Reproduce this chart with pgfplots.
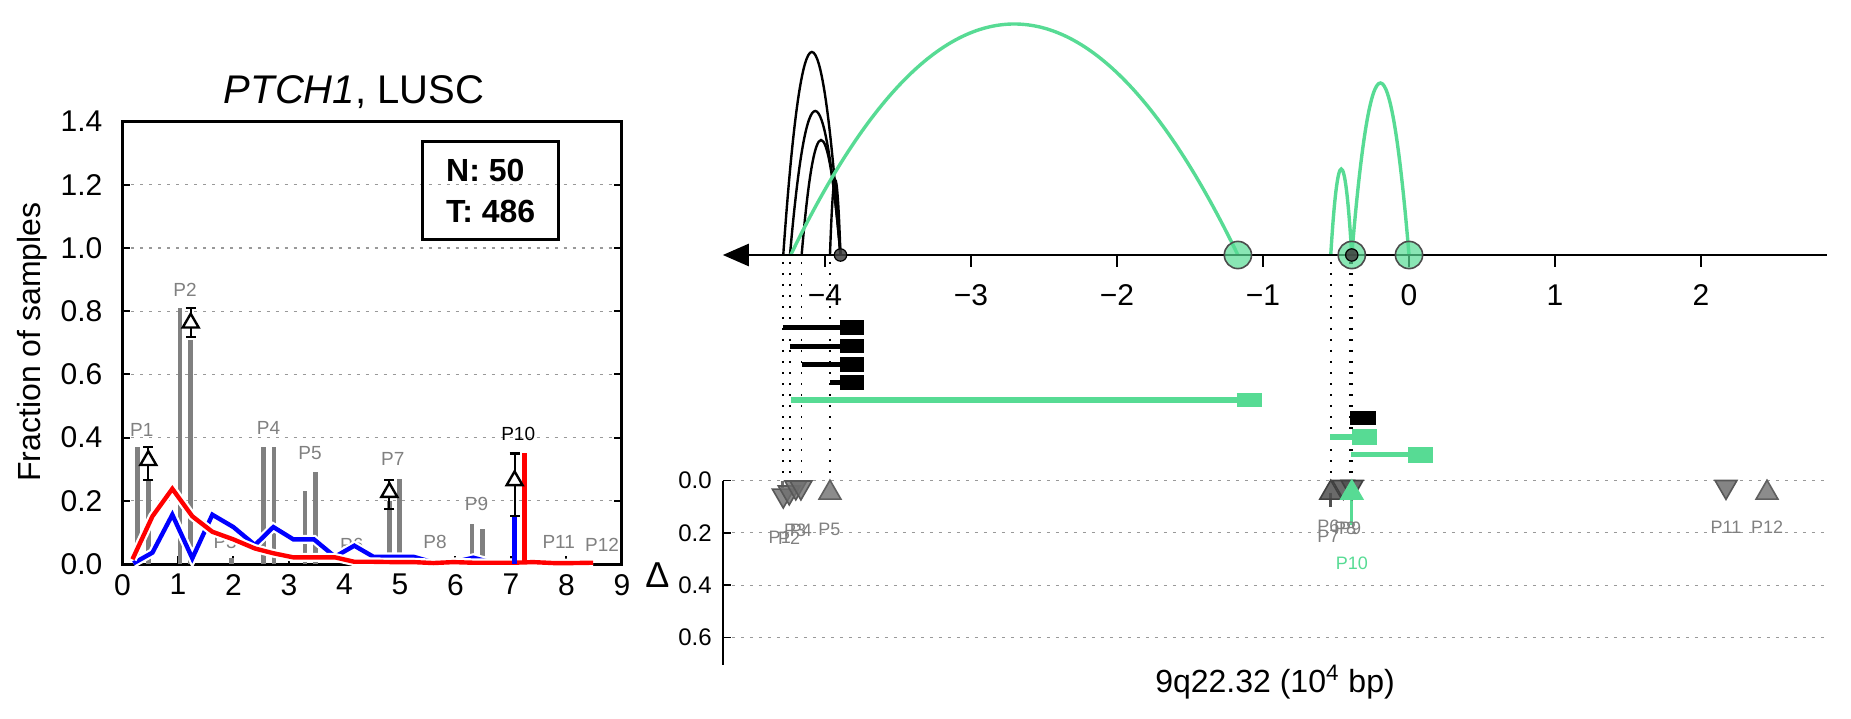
\documentclass[border=0pt]{standalone}
\usepackage{pgfplots}
\pgfplotsset{compat=1.18}
\usepackage{fontspec}
\setmainfont{Liberation Sans}
\usetikzlibrary{arrows.meta}
\definecolor{mgreen}{RGB}{87,219,148}
\definecolor{bargray}{RGB}{128,128,128}
\definecolor{triA}{RGB}{110,110,110}
\definecolor{triB}{RGB}{80,80,80}
\definecolor{triC}{RGB}{120,120,120}
\newcommand{\fs}[1]{\fontsize{#1}{#1}\selectfont}
% arc from (a,0) to (b,0) with peak height h (parabola as a quadratic Bezier)
\newcommand{\arcab}[4]{%
  \draw[#1] (axis cs:#2,0) .. controls
    (axis cs:{#2+(#3-#2)/3},{4*#4/3}) and (axis cs:{#3-(#3-#2)/3},{4*#4/3}) .. (axis cs:#3,0);}
\begin{document}
\begin{tikzpicture}
\useasboundingbox (-61.25pt,-77pt) rectangle (864.25pt,282pt);

% ---------------- left panel ----------------
\begin{axis}[
  at={(0pt,0pt)}, anchor=south west, scale only axis,
  width=249.75pt, height=221.2pt,
  xmin=0, xmax=9, ymin=0, ymax=1.4, clip=false,
  xtick={0,1,2,3,4,5,6,7,8,9}, xticklabels={0,1,2,3,4,5,6,7,8,9},
  ytick={0,0.2,0.4,0.6,0.8,1.0,1.2,1.4},
  yticklabels={0.0,0.2,0.4,0.6,0.8,1.0,1.2,1.4},
  xtick pos=left, tick align=inside, major tick length=4pt,
  tick style={black, line width=1pt},
  axis line style={line width=1.5pt},
  ymajorgrids, grid style={gray!80, dash pattern=on 1.5pt off 3pt, line width=0.6pt},
  ticklabel style={font=\fs{15}},
  xticklabel style={yshift=-1.5pt},
  yticklabel style={xshift=-6.5pt},
]
% gray bars
\addplot[ycomb, bargray, line width=2.35pt, no markers] coordinates {
 (0.273,0.37) (0.465,0.267) (1.036,0.81) (1.229,0.71) (1.967,0.02)
 (2.537,0.37) (2.73,0.37) (3.288,0.23) (3.48,0.29) (4.808,0.2) (4.987,0.27)
 (5.66,0.01) (6.30,0.128) (6.49,0.112) (7.91,0.01)};
% P labels
\node[text=bargray, font=\fs{9.5}] at (axis cs:0.346,0.425) {P1};
\node[text=bargray, font=\fs{9.5}] at (axis cs:1.126,0.868) {P2};
\node[text=bargray, font=\fs{9.5}] at (axis cs:1.85,0.07) {P3};
\node[text=bargray, font=\fs{9.5}] at (axis cs:2.63,0.43) {P4};
\node[text=bargray, font=\fs{9.5}] at (axis cs:3.38,0.35) {P5};
\node[text=bargray, font=\fs{9.5}] at (axis cs:4.13,0.06) {P6};
\node[text=bargray, font=\fs{9.5}] at (axis cs:4.87,0.333) {P7};
\node[text=bargray, font=\fs{9.5}] at (axis cs:5.63,0.07) {P8};
\node[text=bargray, font=\fs{9.5}] at (axis cs:6.38,0.19) {P9};
\node[text=black, font=\fs{9.5}] at (axis cs:7.13,0.41) {P10};
\node[text=bargray, font=\fs{9.5}] at (axis cs:7.86,0.07) {P11};
\node[text=bargray, font=\fs{9.5}] at (axis cs:8.64,0.06) {P12};
% blue line with white halo
\addplot[white, line width=4.4pt, no markers] coordinates {
 (0.195,0.002) (0.54,0.036) (0.898,0.156) (1.258,0.018) (1.619,0.156) (1.997,0.117)
 (2.387,0.06) (2.718,0.117) (3.078,0.078) (3.45,0.078) (3.829,0.023) (4.177,0.058)
 (4.52,0.023) (4.88,0.023) (5.24,0.023) (5.6,0.005) (5.96,0.005) (6.32,0.02) (6.68,0.003) (7.04,0.003)};
\addplot[blue, line width=2.2pt, no markers] coordinates {
 (0.195,0.002) (0.54,0.036) (0.898,0.156) (1.258,0.018) (1.619,0.156) (1.997,0.117)
 (2.387,0.06) (2.718,0.117) (3.078,0.078) (3.45,0.078) (3.829,0.023) (4.177,0.058)
 (4.52,0.023) (4.88,0.023) (5.24,0.023) (5.6,0.005) (5.96,0.005) (6.32,0.02) (6.68,0.003) (7.04,0.003)};
% red line with white halo
\addplot[white, line width=4.4pt, no markers] coordinates {
 (0.18,0.015) (0.54,0.151) (0.898,0.238) (1.258,0.151) (1.619,0.102) (1.997,0.078)
 (2.387,0.049) (2.718,0.034) (3.078,0.021) (3.45,0.021) (3.829,0.021) (4.177,0.007)
 (4.52,0.007) (4.88,0.006) (5.24,0.006) (5.6,0.003) (5.96,0.006) (6.32,0.004) (6.68,0.004)
 (7.04,0.004) (7.4,0.006) (7.76,0.003) (8.12,0.003) (8.48,0.004)};
\addplot[red, line width=2.2pt, no markers] coordinates {
 (0.18,0.015) (0.54,0.151) (0.898,0.238) (1.258,0.151) (1.619,0.102) (1.997,0.078)
 (2.387,0.049) (2.718,0.034) (3.078,0.021) (3.45,0.021) (3.829,0.021) (4.177,0.007)
 (4.52,0.007) (4.88,0.006) (5.24,0.006) (5.6,0.003) (5.96,0.006) (6.32,0.004) (6.68,0.004)
 (7.04,0.004) (7.4,0.006) (7.76,0.003) (8.12,0.003) (8.48,0.004)};
% P10 coloured bars
\addplot[ycomb, blue, line width=2.8pt, no markers] coordinates {(7.06,0.149)};
\addplot[ycomb, red, line width=2.6pt, no markers] coordinates {(7.24,0.35)};
% delta markers with error bars
\addplot[only marks, mark=triangle*, mark size=4.6pt,
  mark options={fill=white, draw=black, line width=1.2pt},
  error bars/.cd, y dir=both, y explicit,
  error bar style={line width=1.1pt, black},
  error mark options={rotate=90, mark size=2.5pt, line width=1.1pt, black}]
  coordinates {
  (0.465,0.328) += (0,0.042) -= (0,0.061)
  (1.229,0.763) += (0,0.047) -= (0,0.045)
  (4.808,0.227) += (0,0.039) -= (0,0.052)
  (7.065,0.264) += (0,0.086) -= (0,0.112)};
\end{axis}
\node[font=\fs{20}] at (115.75pt,236pt) {\textit{PTCH1}, LUSC};
\node[font=\fs{16}, rotate=90] at (-45.25pt,111pt) {Fraction of samples};
\node[draw, line width=1.5pt, minimum width=68.25pt, minimum height=49pt,
  align=left, font=\bfseries\fontsize{16}{20.6}\selectfont] at (184.1pt,186.7pt) {N: 50\\T: 486};

% ---------------- right panel: arcs and intervals ----------------
\begin{axis}[
  at={(576.2pt,161.75pt)}, anchor=center, scale only axis,
  width=552.1pt, height=240.5pt,
  xmin=-4.70, xmax=2.863, ymin=-226, ymax=255,
  hide axis, clip=false,
]
% dotted guide lines
\pgfplotsinvokeforeach{-4.286,-4.24,-4.16,-3.966,-0.536,-0.404,-0.39}{
  \addplot[black, line width=0.8pt, dash pattern=on 1.1pt off 4.4pt, no markers]
    coordinates {(#1,-7) (#1,-225.5)};
}
% black arcs (start, end, peak height)
\arcab{black, line width=1.2pt}{-4.286}{-3.894}{203}
\arcab{black, line width=1.2pt}{-4.24}{-3.894}{144}
\arcab{black, line width=1.2pt}{-4.16}{-3.894}{115}
\arcab{black, line width=1.2pt}{-3.966}{-3.894}{75}
\addplot[black, line width=1.2pt, no markers] coordinates {(-0.395,0) (-0.395,22)};
% green arcs
\arcab{mgreen, line width=1.7pt}{-4.235}{-1.172}{231}
\arcab{mgreen, line width=1.7pt}{-0.536}{-0.392}{86}
\arcab{mgreen, line width=1.7pt}{-0.392}{0.0}{172}
% number line with arrow
\addplot[black, line width=1.3pt, {Triangle[length=13pt,width=11pt]}-, no markers] coordinates {(-4.70,0) (2.863,0)};
\addplot[ycomb, black, line width=0.8pt, no markers] coordinates {(-4,-12) (-3,-12) (-2,-12) (-1,-12) (0,-12) (1,-12) (2,-12)};
\node[font=\fs{15}] at (axis cs:-4,-40) {−4};
\node[font=\fs{15}] at (axis cs:-3,-40) {−3};
\node[font=\fs{15}] at (axis cs:-2,-40) {−2};
\node[font=\fs{15}] at (axis cs:-1,-40) {−1};
\node[font=\fs{15}] at (axis cs:0,-40) {0};
\node[font=\fs{15}] at (axis cs:1,-40) {1};
\node[font=\fs{15}] at (axis cs:2,-40) {2};
% intervals: thin line then box
\addplot[black, line width=2.5pt, no markers] coordinates {(-4.286,-72.7) (-3.8,-72.7)};
\addplot[black, line width=7.2pt, no markers] coordinates {(-3.897,-72.7) (-3.73,-72.7)};
\addplot[black, line width=2.5pt, no markers] coordinates {(-4.24,-91) (-3.8,-91)};
\addplot[black, line width=7.2pt, no markers] coordinates {(-3.897,-91) (-3.73,-91)};
\addplot[black, line width=2.5pt, no markers] coordinates {(-4.16,-109.3) (-3.8,-109.3)};
\addplot[black, line width=7.2pt, no markers] coordinates {(-3.897,-109.3) (-3.73,-109.3)};
\addplot[black, line width=2.5pt, no markers] coordinates {(-3.966,-127.3) (-3.8,-127.3)};
\addplot[black, line width=7.2pt, no markers] coordinates {(-3.897,-127.3) (-3.73,-127.3)};
\addplot[mgreen, line width=3.1pt, no markers] coordinates {(-4.235,-145) (-1.1,-145)};
\addplot[mgreen, line width=7.2pt, no markers] coordinates {(-1.18,-145) (-1.01,-145)};
\addplot[black, line width=7.2pt, no markers] coordinates {(-0.404,-163) (-0.226,-163)};
\addplot[mgreen, line width=2.6pt, no markers] coordinates {(-0.541,-182) (-0.3,-182)};
\addplot[mgreen, line width=7.8pt, no markers] coordinates {(-0.388,-182) (-0.221,-182)};
\addplot[mgreen, line width=2.6pt, no markers] coordinates {(-0.397,-199.7) (0.05,-199.7)};
\addplot[mgreen, line width=7.8pt, no markers] coordinates {(-0.005,-199.7) (0.162,-199.7)};
% breakpoint circles and dots
\addplot[only marks, mark=*, mark size=6.8pt,
  mark options={fill=mgreen, fill opacity=0.7, draw=black!70, line width=0.8pt}]
  coordinates {(-1.172,0) (-0.392,0) (0,0)};
\addplot[only marks, mark=*, mark size=3.1pt,
  mark options={fill=black!75, draw=black, fill opacity=0.85, line width=0.6pt}]
  coordinates {(-3.894,0) (-0.392,0)};
\end{axis}

% ---------------- right panel: delta axis ----------------
\begin{axis}[
  at={(576.2pt,-4.275pt)}, anchor=center, scale only axis,
  width=552.1pt, height=92.05pt,
  xmin=-4.70, xmax=2.863, ymin=0, ymax=0.704, y dir=reverse,
  axis x line=none, axis y line*=left, clip=false,
  xtick=\empty,
  ytick={0,0.2,0.4,0.6}, yticklabels={0.0,0.2,0.4,0.6},
  tick align=inside, major tick length=4pt,
  tick style={black, line width=0.8pt},
  axis line style={line width=1.3pt},
  ymajorgrids, grid style={gray!80, dash pattern=on 1.5pt off 3pt, line width=0.6pt},
  yticklabel style={font=\fs{12}, xshift=-2pt},
]
% stems
\addplot[triA, line width=1.2pt, no markers] coordinates {(-4.29,0) (-4.29,0.03)};
\addplot[triB, line width=1.4pt, no markers] coordinates {(-0.536,0.047) (-0.536,0.1)};
\addplot[mgreen, line width=1.6pt, no markers] coordinates {(-0.392,0.047) (-0.392,0.17)};
% markers
\addplot[only marks, mark=triangle*, mark size=6.3pt,
  mark options={rotate=180, fill=triA, draw=triA!80!black, fill opacity=0.8, line width=0.8pt}]
  coordinates {(-4.286,0.057) (-4.245,0.045) (-4.20,0.026) (-4.165,0.026)};
\addplot[only marks, mark=triangle*, mark size=6.3pt,
  mark options={fill=triC, draw=triC!80!black, fill opacity=0.85, line width=0.8pt}]
  coordinates {(-3.966,0.047)};
\addplot[only marks, mark=triangle*, mark size=6.3pt,
  mark options={rotate=180, fill=triB, draw=triB!80!black, fill opacity=0.85, line width=0.8pt}]
  coordinates {(-0.45,0.024) (-0.39,0.024)};
\addplot[only marks, mark=triangle*, mark size=6.3pt,
  mark options={fill=triB, draw=triB!80!black, fill opacity=0.85, line width=0.8pt}]
  coordinates {(-0.536,0.047)};
\addplot[only marks, mark=triangle*, mark size=6.3pt,
  mark options={fill=mgreen, draw=mgreen, line width=0.8pt}]
  coordinates {(-0.392,0.047)};
\addplot[only marks, mark=triangle*, mark size=6.3pt,
  mark options={rotate=180, fill=triA, draw=triA!80!black, fill opacity=0.85, line width=0.8pt}]
  coordinates {(2.171,0.024)};
\addplot[only marks, mark=triangle*, mark size=6.3pt,
  mark options={fill=triC, draw=triC!80!black, fill opacity=0.85, line width=0.8pt}]
  coordinates {(2.452,0.047)};
% labels
\node[text=bargray, font=\fs{9}] at (axis cs:-4.31,0.217) {P1};
\node[text=bargray, font=\fs{9}] at (axis cs:-4.245,0.221) {P2};
\node[text=bargray, font=\fs{9}] at (axis cs:-4.205,0.189) {P3};
\node[text=bargray, font=\fs{9}] at (axis cs:-4.166,0.189) {P4};
\node[text=bargray, font=\fs{9}] at (axis cs:-3.97,0.187) {P5};
\node[text=bargray, font=\fs{9}] at (axis cs:-0.553,0.177) {P6};
\node[text=bargray, font=\fs{9}] at (axis cs:-0.553,0.215) {P7};
\node[text=bargray, font=\fs{9}] at (axis cs:-0.438,0.183) {P8};
\node[text=bargray, font=\fs{9}] at (axis cs:-0.404,0.183) {P9};
\node[text=mgreen, font=\fs{9}] at (axis cs:-0.392,0.317) {P10};
\node[text=bargray, font=\fs{9}] at (axis cs:2.171,0.18) {P11};
\node[text=bargray, font=\fs{9}] at (axis cs:2.452,0.18) {P12};
\end{axis}
\node[font=\fs{18}] at (267.5pt,-5.5pt) {Δ};
\node[font=\fs{16}] at (576.25pt,-59pt) {9q22.32 (10\textsuperscript{4} bp)};
\end{tikzpicture}
\end{document}
